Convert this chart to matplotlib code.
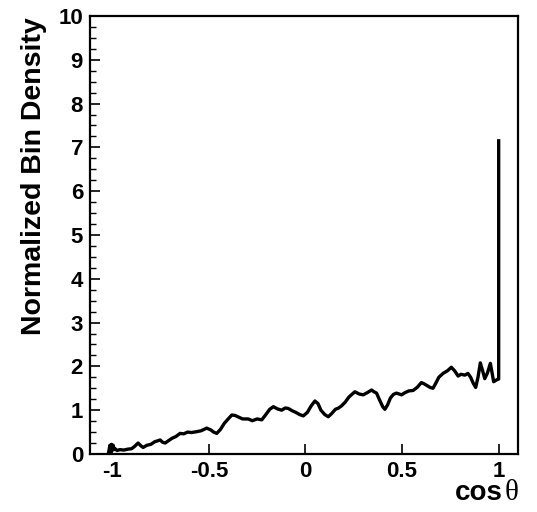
#!/usr/bin/env python3

import matplotlib
matplotlib.use('Agg')
import matplotlib.pyplot as plt
from matplotlib.ticker import MultipleLocator, AutoMinorLocator

# cos(theta) bin positions and normalized bin density
cos_theta = [
    -1.02, -1.012, -1.008, -1.004, -1.0, -0.995, -0.99, -0.985, -0.975, -0.96,
    -0.94, -0.92, -0.90, -0.885, -0.866, -0.85, -0.84, -0.82, -0.80, -0.78,
    -0.765, -0.752, -0.74, -0.726, -0.71, -0.69, -0.67, -0.649, -0.63, -0.61,
    -0.59, -0.562, -0.54, -0.511, -0.49, -0.475, -0.459, -0.44, -0.42, -0.40,
    -0.381, -0.364, -0.345, -0.325, -0.296, -0.275, -0.25, -0.226, -0.205, -0.185,
    -0.166, -0.145, -0.123, -0.105, -0.089, -0.07, -0.05, -0.03, -0.011, 0.01,
    0.03, 0.049, 0.065, 0.08, 0.1, 0.118, 0.135, 0.155, 0.172, 0.187,
    0.205, 0.225, 0.24, 0.256, 0.278, 0.299, 0.32, 0.342, 0.355, 0.368,
    0.385, 0.40, 0.411, 0.425, 0.44, 0.455, 0.471, 0.485, 0.497, 0.515,
    0.535, 0.557, 0.578, 0.6, 0.615, 0.63, 0.645, 0.66, 0.675, 0.69,
    0.712, 0.735, 0.755, 0.772, 0.79, 0.805, 0.825, 0.841, 0.855, 0.868,
    0.881, 0.893, 0.905, 0.917, 0.928, 0.942, 0.957, 0.966, 0.974, 0.985,
    0.997, 1.0, 1.0,
]
density = [
    0.0, 0.2, 0.05, 0.22, 0.08, 0.2, 0.1, 0.12, 0.08, 0.1,
    0.09, 0.11, 0.12, 0.17, 0.25, 0.18, 0.15, 0.2, 0.22, 0.28,
    0.3, 0.32, 0.27, 0.25, 0.3, 0.36, 0.4, 0.47, 0.46, 0.5,
    0.49, 0.51, 0.53, 0.59, 0.55, 0.5, 0.47, 0.56, 0.7, 0.8,
    0.89, 0.88, 0.84, 0.8, 0.8, 0.76, 0.8, 0.78, 0.9, 1.02,
    1.08, 1.03, 1.0, 1.05, 1.04, 0.99, 0.95, 0.9, 0.87, 0.95,
    1.1, 1.21, 1.15, 1.0, 0.9, 0.85, 0.92, 1.02, 1.05, 1.1,
    1.18, 1.3, 1.36, 1.42, 1.37, 1.35, 1.4, 1.46, 1.42, 1.39,
    1.22, 1.08, 1.02, 1.12, 1.28, 1.36, 1.39, 1.37, 1.35, 1.4,
    1.44, 1.45, 1.52, 1.63, 1.6, 1.56, 1.52, 1.5, 1.62, 1.75,
    1.84, 1.9, 1.98, 1.9, 1.78, 1.82, 1.8, 1.84, 1.75, 1.62,
    1.52, 1.75, 2.08, 1.9, 1.72, 1.85, 2.07, 1.85, 1.65, 1.68,
    1.71, 1.71, 7.15,
]
x_ticks = [-1, -0.5, 0, 0.5, 1]
x_tick_labels = ['-1', '-0.5', '0', '0.5', '1']

plt.rcParams['font.family'] = ['Liberation Sans', 'DejaVu Sans']
plt.rcParams['font.weight'] = 'bold'

fig = plt.figure(figsize=(5.37, 5.12), dpi=100)
ax = fig.add_axes([0.1676, 0.1133, 0.797, 0.8555])

ax.plot(cos_theta, density, color='black', linewidth=2.4, solid_joinstyle='round')

ax.set_xlim(-1.115, 1.1)
ax.set_ylim(0, 10)

ax.yaxis.set_major_locator(MultipleLocator(1))
ax.yaxis.set_minor_locator(AutoMinorLocator(4))
ax.set_xticks(x_ticks)
ax.set_xticklabels(x_tick_labels)
ax.tick_params(axis='both', which='both', direction='in', top=False, right=False)
ax.tick_params(axis='both', which='major', length=7, width=1.2, labelsize=16, pad=5)
ax.tick_params(axis='y', which='minor', length=4, width=1.0)
for lbl in ax.get_xticklabels() + ax.get_yticklabels():
    lbl.set_fontweight('bold')

for spine in ax.spines.values():
    spine.set_linewidth(1.6)

# axis titles placed by hand, ROOT style
fig.text(34 / 537, 1 - 176 / 512, 'Normalized Bin Density', rotation=90,
         ha='center', va='center', fontsize=20.5, fontweight='bold')
fig.text(519 / 537, 1 - 500 / 512, '\u03b8', ha='right', va='baseline',
         fontsize=21, family='Liberation Serif', fontweight='normal')
fig.text(503 / 537, 1 - 500 / 512, 'cos', ha='right', va='baseline',
         fontsize=20, fontweight='bold')

fig.savefig('out.png', dpi=100)
plt.close(fig)
